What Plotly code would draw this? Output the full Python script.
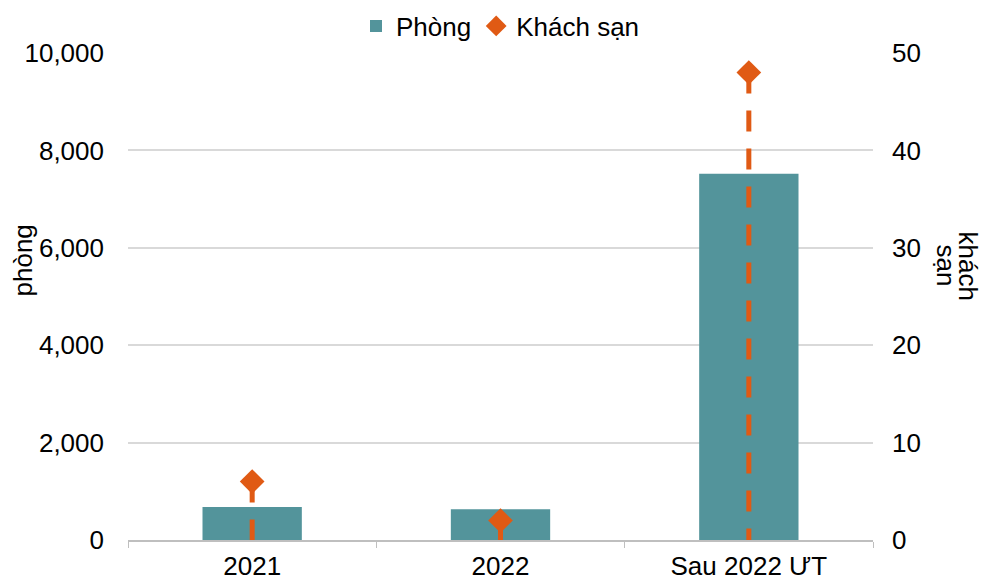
import plotly.graph_objects as go

# Data
categories = ["2021", "2022", "Sau 2022 ƯT"]
rooms = [680, 630, 7520]          # Phòng (left axis)
hotels = [6, 2, 48]               # Khách sạn (right axis)
left_ticks = [0, 2000, 4000, 6000, 8000, 10000]
right_ticks = [0, 10, 20, 30, 40, 50]

TEAL = "#53949B"
ORANGE = "#E05A14"
FONT = "Liberation Sans, Arial, sans-serif"
FS = 26

fig = go.Figure()

fig.add_trace(go.Bar(
    x=categories, y=rooms, name="Phòng",
    marker=dict(color=TEAL, line=dict(width=0)),
    yaxis="y",
))

# Dashed drop lines from each hotel marker down to zero
for cat, h in zip(categories, hotels):
    fig.add_trace(go.Scatter(
        x=[cat, cat], y=[h, 0], mode="lines",
        line=dict(color=ORANGE, width=5, dash="21px,17px"),
        yaxis="y2", showlegend=False, hoverinfo="skip",
    ))

fig.add_trace(go.Scatter(
    x=categories, y=hotels, name="Khách sạn", mode="markers",
    marker=dict(symbol="diamond", size=19, color=ORANGE),
    yaxis="y2",
))

fig.update_layout(
    width=985, height=583,
    margin=dict(l=128, r=112, t=53, b=43, autoexpand=False),
    paper_bgcolor="white", plot_bgcolor="white",
    font=dict(family=FONT, size=FS, color="#000000"),
    bargap=0.6,
    showlegend=True,
    legend=dict(orientation="h", x=0.5, xanchor="center",
                yref="container", y=1 - 26 / 583, yanchor="middle",
                font=dict(size=FS), itemwidth=30, tracegroupgap=0,
                bgcolor="rgba(0,0,0,0)"),
    xaxis=dict(
        type="category", showgrid=False, automargin=False,
        showline=True, linecolor="#BFBFBF", linewidth=1.5,
        ticks="outside", tickson="boundaries", ticklen=6, tickcolor="#BFBFBF",
        tickfont=dict(size=FS), ticklabelstandoff=2,
    ),
    yaxis=dict(
        range=[0, 10000], tickvals=left_ticks, tickformat=",",
        showgrid=True, gridcolor="#D9D9D9", gridwidth=1.5, automargin=False,
        zeroline=False, showline=False,
        ticks="", ticklabelstandoff=23,
    ),
    yaxis2=dict(
        range=[0, 50], tickvals=right_ticks, overlaying="y", side="right",
        showgrid=False, zeroline=False, showline=False, ticks="",
        ticklabelstandoff=18, automargin=False,
    ),
)

# Left axis title reads bottom-to-top
fig.add_annotation(
    text="phòng", textangle=-90, showarrow=False,
    xref="paper", yref="paper", x=0.0, y=0.5, xanchor="center", yanchor="middle",
    xshift=-106, yshift=36, font=dict(size=FS),
)

# Right axis title reads top-to-bottom, two tightly spaced lines
fig.add_annotation(
    text="khách", textangle=90, showarrow=False,
    xref="paper", yref="paper", x=1.0, y=0.5, xanchor="center", yanchor="middle",
    xshift=95, yshift=31, font=dict(size=FS),
)
fig.add_annotation(
    text="sạn", textangle=90, showarrow=False,
    xref="paper", yref="paper", x=1.0, y=0.5, xanchor="center", yanchor="middle",
    xshift=73, yshift=31, font=dict(size=FS),
)

fig.write_html("out.html")
